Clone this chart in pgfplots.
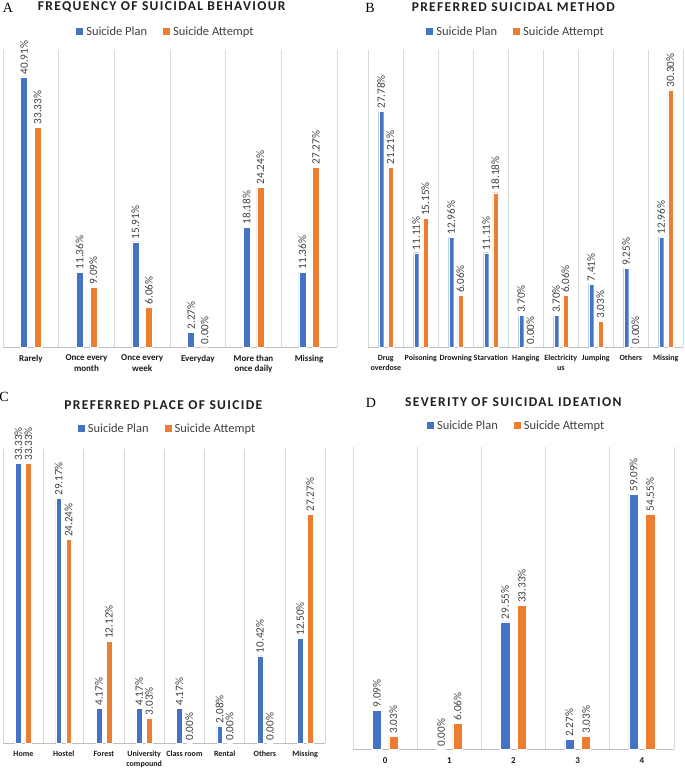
\documentclass[border=0pt]{standalone}
\usepackage{pgfplots}
\pgfplotsset{compat=1.18}
\usepackage{fontspec}
\setmainfont{Carlito}
\newfontfamily\titlefont[LetterSpace=10]{Carlito}
\newfontfamily\letterfont{Liberation Serif}
\definecolor{plan}{HTML}{4472C4}
\definecolor{att}{HTML}{ED7D31}
\definecolor{lbl}{HTML}{404040}
\definecolor{gridc}{HTML}{D9D9D9}
\definecolor{basec}{HTML}{BFBFBF}

\newcommand{\keytext}{\textcolor{plan}{\rule[0.3pt]{7pt}{7pt}}\hspace{3pt}Suicide Plan\hspace{16pt}\textcolor{att}{\rule[0.3pt]{7pt}{7pt}}\hspace{3pt}Suicide Attempt}

\pgfplotsset{
 panel/.style={
  scale only axis, ybar, ymin=0, xmin=-0.5,
  axis line style={draw=none},
  ytick=\empty,
  major tick length=0pt, minor tick length=0pt,
  xminorgrids, minor grid style={gridc, line width=0.7pt},
  extra y ticks={0}, extra y tick labels={},
  extra y tick style={grid=major, major grid style={basec, line width=0.8pt}},
  clip=false,
  /pgf/number format/assume math mode=true,
  nodes near coords={\pgfmathprintnumber[fixed,fixed zerofill,precision=2,assume math mode=true]{\pgfplotspointmeta}\%},
  every node near coord/.append style={rotate=90, anchor=west, font=\fontsize{11.2}{12}\selectfont, text=lbl, inner sep=2.5pt},
  xticklabel style={font=\bfseries\fontsize{9}{10.5}\selectfont, align=center, text=black!90, yshift=-4.5pt},
 },
 small labels/.style={xticklabel style={font=\bfseries\fontsize{8}{10}\selectfont}},
 planbar/.style={fill=plan, draw=white, line width=0.4pt},
 attbar/.style={fill=att, draw=white, line width=0.4pt},
}
\tikzset{keynode/.style={anchor=center, inner sep=0pt, font=\fontsize{12.5}{14}\selectfont, text=lbl}}

\begin{document}
\begin{tikzpicture}
\useasboundingbox (0pt,0pt) rectangle (685pt,768pt);

% ---------- Panel A ----------
\begin{axis}[panel, at={(3pt,421pt)}, anchor=south west, width=334pt, height=297pt,
  ymax=45, xmax=5.5, bar width=7pt, ybar=6.6pt,
  xtick={0,...,5}, minor xtick={-0.5,0.5,...,5.5},
  xticklabels={Rarely, {Once every\\month}, {Once every\\week}, Everyday, {More than\\once daily}, Missing}]
\addplot[planbar] coordinates {(0,40.91) (1,11.36) (2,15.91) (3,2.27) (4,18.18) (5,11.36)};
\addplot[attbar] coordinates {(0,33.33) (1,9.09) (2,6.06) (3,0) (4,24.24) (5,27.27)};
\node[keynode] at (axis description cs:0.485,1.0616) {\keytext};
\end{axis}

% ---------- Panel B ----------
\begin{axis}[panel, small labels, at={(368.3pt,421pt)}, anchor=south west, width=315pt, height=297pt,
  ymax=35, xmax=8.5, bar width=5pt, ybar=4.2pt,
  xtick={0,...,8}, minor xtick={-0.5,0.5,...,8.5},
  xticklabels={{Drug\\overdose}, Poisoning, Drowning, Starvation, Hanging, {Electricity\\us}, Jumping, Others, Missing}]
\addplot[planbar] coordinates {(0,27.78) (1,11.11) (2,12.96) (3,11.11) (4,3.70) (5,3.70) (6,7.41) (7,9.25) (8,12.96)};
\addplot[attbar] coordinates {(0,21.21) (1,15.15) (2,6.06) (3,18.18) (4,0) (5,6.06) (6,3.03) (7,0) (8,30.30)};
\node[keynode] at (axis description cs:0.466,1.0596) {\keytext};
\end{axis}

% ---------- Panel C ----------
\begin{axis}[panel, small labels, at={(3.3pt,24.7pt)}, anchor=south west, width=322pt, height=294pt,
  ymax=35, xmax=7.5, bar width=5.7pt, ybar=4.3pt,
  xtick={0,...,7}, minor xtick={-0.5,0.5,...,7.5},
  xticklabels={Home, Hostel, Forest, {University\\compound}, Class room, Rental, Others, Missing}]
\addplot[planbar] coordinates {(0,33.33) (1,29.17) (2,4.17) (3,4.17) (4,4.17) (5,2.08) (6,10.42) (7,12.50)};
\addplot[attbar] coordinates {(0,33.33) (1,24.24) (2,12.12) (3,3.03) (4,0) (5,0) (6,0) (7,27.27)};
\node[keynode] at (axis description cs:0.507,1.068) {\keytext};
\end{axis}

% ---------- Panel D ----------
\begin{axis}[panel, at={(353pt,18.7pt)}, anchor=south west, width=321pt, height=302pt,
  ymax=70, xmax=4.5, bar width=9.3pt, ybar=7.3pt,
  xtick={0,...,4}, minor xtick={-0.5,0.5,...,4.5},
  xticklabels={0,1,2,3,4}]
\addplot[planbar] coordinates {(0,9.09) (1,0) (2,29.55) (3,2.27) (4,59.09)};
\addplot[attbar] coordinates {(0,3.03) (1,6.06) (2,33.33) (3,3.03) (4,54.55)};
\node[keynode] at (axis description cs:0.507,1.0705) {\keytext};
\end{axis}

% ---------- Titles and panel letters ----------
\begin{scope}[every node/.style={font=\titlefont\bfseries\fontsize{13.5}{15}\selectfont, text=black!88, inner sep=0pt}]
\node at (161.7pt,761.3pt) {FREQUENCY OF SUICIDAL BEHAVIOUR};
\node at (513.3pt,760.7pt) {PREFERRED SUICIDAL METHOD};
\node at (163.3pt,363pt) {PREFERRED PLACE OF SUICIDE};
\node at (513.3pt,366.3pt) {SEVERITY OF SUICIDAL IDEATION};
\end{scope}
\begin{scope}[every node/.style={font=\letterfont\fontsize{14}{16}\selectfont, inner sep=0pt}]
\node at (8pt,760pt) {A};
\node at (370pt,760pt) {B};
\node at (4pt,371pt) {C};
\node at (371pt,365pt) {D};
\end{scope}
\end{tikzpicture}
\end{document}
